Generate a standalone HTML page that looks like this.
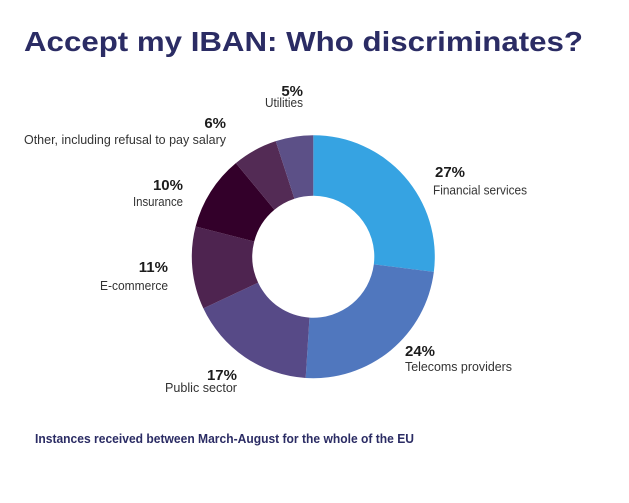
<!DOCTYPE html>
<html>
<head>
<meta charset="utf-8">
<style>
  html,body{margin:0;padding:0;background:#fff;}
  svg{display:block;}
  .t{font-family:"Liberation Sans",sans-serif;}
  .pct{font-family:"Liberation Sans",sans-serif;font-weight:bold;font-size:15px;fill:#1c1c1c;}
  .lab{font-family:"Liberation Sans",sans-serif;font-size:12.5px;fill:#333;}
</style>
</head>
<body>
<svg width="629" height="503" viewBox="0 0 629 503" xmlns="http://www.w3.org/2000/svg">
  <rect width="629" height="503" fill="#fff"/>
  <text class="t" x="24" y="51" font-size="28" font-weight="bold" fill="#2b2c64" textLength="559" lengthAdjust="spacingAndGlyphs">Accept my IBAN: Who discriminates?</text>

  <!-- donut -->
  <path d="M313.3,135.2 A121.5,121.5 0 0 1 433.84,271.93 L373.82,264.35 A61,61 0 0 0 313.3,195.7 Z" fill="#36a3e2"/>
  <path d="M433.84,271.93 A121.5,121.5 0 0 1 305.67,377.96 L309.47,317.58 A61,61 0 0 0 373.82,264.35 Z" fill="#5077be"/>
  <path d="M305.67,377.96 A121.5,121.5 0 0 1 203.36,308.43 L258.11,282.67 A61,61 0 0 0 309.47,317.58 Z" fill="#574a87"/>
  <path d="M203.36,308.43 A121.5,121.5 0 0 1 195.62,226.48 L254.22,241.53 A61,61 0 0 0 258.11,282.67 Z" fill="#4e2450"/>
  <path d="M195.62,226.48 A121.5,121.5 0 0 1 235.85,163.08 L274.42,209.70 A61,61 0 0 0 254.22,241.53 Z" fill="#33002a"/>
  <path d="M235.85,163.08 A121.5,121.5 0 0 1 275.75,141.15 L294.45,198.69 A61,61 0 0 0 274.42,209.70 Z" fill="#532b55"/>
  <path d="M275.75,141.15 A121.5,121.5 0 0 1 313.3,135.2 L313.3,195.7 A61,61 0 0 0 294.45,198.69 Z" fill="#5c5087"/>

  <!-- labels -->
  <text class="pct" x="303" y="96" text-anchor="end">5%</text>
  <text class="lab" x="303" y="107" text-anchor="end" textLength="38" lengthAdjust="spacingAndGlyphs">Utilities</text>

  <text class="pct" x="226" y="128" text-anchor="end">6%</text>
  <text class="lab" x="226" y="144" text-anchor="end" textLength="202" lengthAdjust="spacingAndGlyphs">Other, including refusal to pay salary</text>

  <text class="pct" x="183" y="190" text-anchor="end">10%</text>
  <text class="lab" x="183" y="206" text-anchor="end" textLength="50" lengthAdjust="spacingAndGlyphs">Insurance</text>

  <text class="pct" x="168" y="272" text-anchor="end">11%</text>
  <text class="lab" x="168" y="290" text-anchor="end" textLength="68" lengthAdjust="spacingAndGlyphs">E-commerce</text>

  <text class="pct" x="237" y="380" text-anchor="end">17%</text>
  <text class="lab" x="237" y="392" text-anchor="end" textLength="72" lengthAdjust="spacingAndGlyphs">Public sector</text>

  <text class="pct" x="435" y="177">27%</text>
  <text class="lab" x="433" y="194.5" textLength="94" lengthAdjust="spacingAndGlyphs">Financial services</text>

  <text class="pct" x="405" y="356">24%</text>
  <text class="lab" x="405" y="371" textLength="107" lengthAdjust="spacingAndGlyphs">Telecoms providers</text>

  <text class="t" x="35" y="443" font-size="12.5" font-weight="bold" fill="#2b2c64" textLength="379" lengthAdjust="spacingAndGlyphs">Instances received between March-August for the whole of the EU</text>
</svg>
</body>
</html>
